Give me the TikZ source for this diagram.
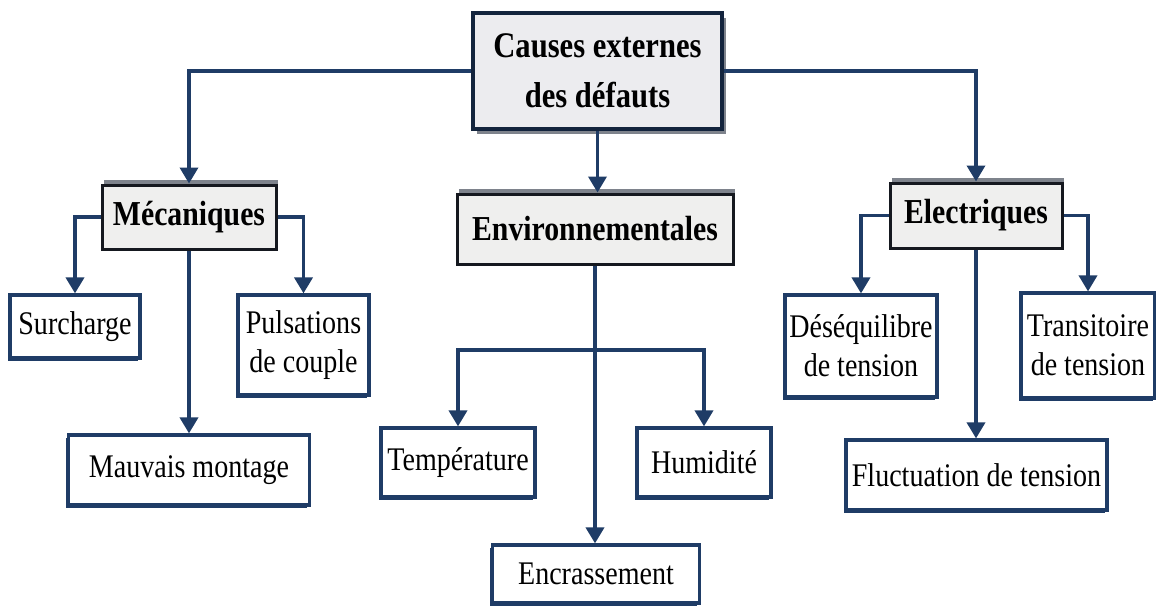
\documentclass[tikz,border=0pt]{standalone}
\usepackage{fontspec}
\setmainfont{Liberation Serif}
\newfontfamily\condfont[FakeStretch=0.85]{Liberation Serif}
\usetikzlibrary{arrows.meta,shadows}
\definecolor{navy}{HTML}{1F3C66}
\definecolor{catfill}{HTML}{EFEFEE}
\definecolor{mainfill}{HTML}{ECECEF}
\definecolor{shadowgray}{HTML}{7E838C}
\definecolor{catborder}{HTML}{15181F}
\tikzset{
  mainbox/.style={draw=navy!60!black, line width=3.2pt, fill=mainfill, inner sep=0pt,
    align=center, font=\condfont\bfseries\fontsize{36}{50}\selectfont,
    drop shadow={shadow xshift=4pt, shadow yshift=-5pt, fill=shadowgray, opacity=1}},
  catbox/.style={draw=catborder, line width=3pt, fill=catfill, inner sep=0pt,
    align=center, font=\condfont\bfseries\fontsize{35}{43}\selectfont,
    drop shadow={shadow xshift=2pt, shadow yshift=5pt, fill=shadowgray, opacity=1}},
  leafbox/.style={draw=navy, line width=3.2pt, fill=white, inner sep=0pt,
    align=center, font=\condfont\fontsize{33}{39}\selectfont,
    drop shadow={shadow xshift=-2.5pt, shadow yshift=-2.5pt, fill=navy, opacity=1}},
  conn/.style={draw=navy, line width=3.6pt, -{Triangle[width=18pt,length=16pt]}},
}
\begin{document}
\begin{tikzpicture}[x=1pt,y=-1pt]
\useasboundingbox (0,0) rectangle (1156,605);
% main
\node[mainbox, minimum width=249pt, minimum height=116pt] (main) at (597.5,71) {Causes externes\\des défauts};
% categories
\node[catbox, minimum width=174pt, minimum height=64pt] (mec) at (189,217) {Mécaniques};
\node[catbox, minimum width=276pt, minimum height=70pt] (env) at (595,229) {Environnementales};
\node[catbox, minimum width=172pt, minimum height=65pt] (elec) at (976,215.5) {Electriques};
% leaves
\node[leafbox, minimum width=130pt, minimum height=63pt] (sur) at (75,326.5) {Surcharge};
\node[leafbox, minimum width=131pt, minimum height=100pt] (pul) at (303.5,345) {Pulsations\\de couple};
\node[leafbox, minimum width=241pt, minimum height=70pt] (mau) at (189,470) {Mauvais montage};
\node[leafbox, minimum width=154pt, minimum height=69pt] (tem) at (458,462.5) {Température};
\node[leafbox, minimum width=134pt, minimum height=69pt] (hum) at (704,462.5) {Humidité};
\node[leafbox, minimum width=207pt, minimum height=58pt] (enc) at (596,574) {Encrassement};
\node[leafbox, minimum width=152pt, minimum height=102pt] (des) at (861,346) {Déséquilibre\\de tension};
\node[leafbox, minimum width=134pt, minimum height=105pt] (tra) at (1088,345.5) {Transitoire\\de tension};
\node[leafbox, minimum width=261pt, minimum height=70pt] (flu) at (976.5,475) {Fluctuation de tension};
% connectors
\draw[conn] (main.west) -| (mec.north);
\draw[conn] (main.east) -| (elec.north);
\draw[conn] (main.south) -- (main.south |- env.north);
\draw[conn] (mec.west) -| (sur.north);
\draw[conn] (mec.east) -| (pul.north);
\draw[conn] (mec.south) -- (mec.south |- mau.north);
\draw[conn] (env.south) -- (env.south |- enc.north);
\coordinate (fork) at (595,350);
\draw[conn] (fork) -| (tem.north);
\draw[conn] (fork) -| (hum.north);
\draw[conn] (elec.west) -| (des.north);
\draw[conn] (elec.east) -| (tra.north);
\draw[conn] (elec.south) -- (elec.south |- flu.north);
\end{tikzpicture}
\end{document}
